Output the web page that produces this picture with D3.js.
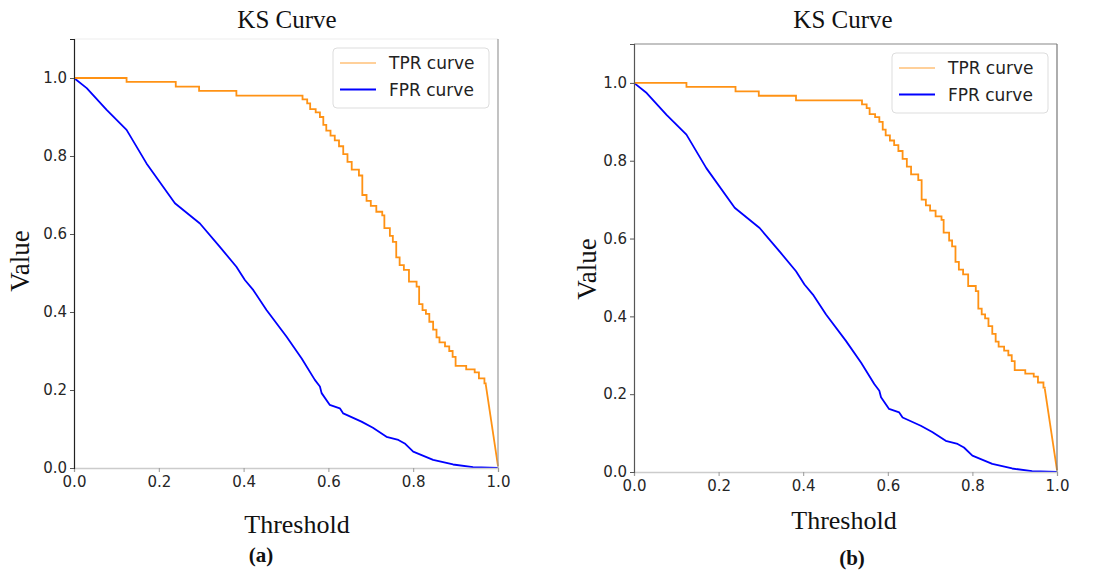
<!DOCTYPE html>
<html>
<head>
<meta charset="utf-8">
<script src="https://cdn.jsdelivr.net/npm/d3@7"></script>
<style>
  html, body { margin: 0; padding: 0; background: #fff; }
  svg { display: block; }
</style>
</head>
<body>
<svg id="chart" width="1102" height="573"></svg>
<script>
// ---- Data ----
const xTicks = [0.0, 0.2, 0.4, 0.6, 0.8, 1.0];
const yTicks = [0.0, 0.2, 0.4, 0.6, 0.8, 1.0];
const seriesNames = ["TPR curve", "FPR curve"];
const panelLabels = ["(a)", "(b)"];

// TPR: step curve (threshold, value)
const tprThreshold = [0.000, 0.124, 0.240, 0.295, 0.383, 0.539, 0.550, 0.557, 0.570, 0.580,
                      0.588, 0.595, 0.605, 0.615, 0.625, 0.635, 0.645, 0.655, 0.672, 0.680,
                      0.690, 0.700, 0.713, 0.727, 0.732, 0.745, 0.752, 0.760, 0.768, 0.778,
                      0.790, 0.808, 0.814, 0.822, 0.830, 0.838, 0.847, 0.855, 0.862, 0.875,
                      0.885, 0.893, 0.900, 0.925, 0.945, 0.955, 0.968, 0.971, 1.000];
const tprValue     = [1.000, 0.990, 0.978, 0.967, 0.955, 0.945, 0.935, 0.920, 0.912, 0.900,
                      0.880, 0.865, 0.852, 0.840, 0.825, 0.805, 0.785, 0.765, 0.750, 0.700,
                      0.685, 0.672, 0.657, 0.648, 0.615, 0.595, 0.580, 0.540, 0.520, 0.508,
                      0.478, 0.465, 0.420, 0.405, 0.395, 0.375, 0.355, 0.335, 0.322, 0.312,
                      0.300, 0.285, 0.262, 0.253, 0.245, 0.230, 0.217, 0.215, 0.005];

// FPR: smooth-ish curve (threshold, value)
const fprThreshold = [0.000, 0.030, 0.077, 0.124, 0.171, 0.238, 0.297, 0.344, 0.383, 0.403,
                      0.423, 0.454, 0.501, 0.537, 0.568, 0.580, 0.584, 0.603, 0.627, 0.635,
                      0.678, 0.705, 0.737, 0.765, 0.780, 0.800, 0.847, 0.894, 0.941, 1.000];
const fprValue     = [1.000, 0.974, 0.918, 0.867, 0.781, 0.679, 0.627, 0.567, 0.516, 0.482,
                      0.456, 0.405, 0.337, 0.281, 0.226, 0.209, 0.192, 0.162, 0.153, 0.140,
                      0.119, 0.103, 0.080, 0.072, 0.063, 0.042, 0.021, 0.009, 0.002, 0.000];

const tprData = tprThreshold.map((t, i) => ({ t, v: tprValue[i] }));
const fprData = fprThreshold.map((t, i) => ({ t, v: fprValue[i] }));

const TPR_COLOR = "#ff9214";
const FPR_COLOR = "#0000ff";

// ---- Panel layouts ----
const panels = [
  { label: panelLabels[0], x0: 74, x1: 498, yTop: 39, yBot: 468,
    titleX: 287, titleY: 28, yLabX: 29, yLabY: 261, xLabX: 297, xLabY: 533,
    capX: 261, capY: 562, tickLabY: 0,
    spines: { left: "#222", right: "#9a9a9a", top: "#eeeeee", bottom: "#cccccc" } },
  { label: panelLabels[1], x0: 634, x1: 1057, yTop: 44, yBot: 472,
    titleX: 843, titleY: 28, yLabX: 596, yLabY: 269, xLabX: 844, xLabY: 529,
    capX: 852, capY: 565, tickLabY: 0,
    spines: { left: "#555", right: "#777", top: "#888", bottom: "#cccccc" } }
];

const svg = d3.select("#chart");

panels.forEach(p => {
  const x = d3.scaleLinear().domain([0, 1]).range([p.x0, p.x1]);
  const y = d3.scaleLinear().domain([0, 1.1]).range([p.yBot, p.yTop]);
  const g = svg.append("g");

  // Title
  g.append("text")
    .attr("x", p.titleX).attr("y", p.titleY)
    .attr("text-anchor", "middle")
    .style("font-family", "'Liberation Serif', 'Times New Roman', serif")
    .style("font-size", "25px")
    .attr("fill", "#111")
    .text("KS Curve");

  // Curves
  const lineStep = d3.line().x(d => x(d.t)).y(d => y(d.v)).curve(d3.curveStepAfter);
  const lineLin = d3.line().x(d => x(d.t)).y(d => y(d.v));
  const stepPart = tprData.slice(0, tprData.length - 1);
  const tailPart = tprData.slice(tprData.length - 2);

  g.append("path").datum(fprData)
    .attr("d", lineLin)
    .attr("fill", "none").attr("stroke", FPR_COLOR)
    .attr("stroke-width", 1.8).attr("stroke-linejoin", "round");

  g.append("path").datum(stepPart)
    .attr("d", lineStep)
    .attr("fill", "none").attr("stroke", TPR_COLOR)
    .attr("stroke-width", 1.8);
  g.append("path").datum(tailPart)
    .attr("d", lineLin)
    .attr("fill", "none").attr("stroke", TPR_COLOR)
    .attr("stroke-width", 1.8);

  // Spines
  const sp = p.spines;
  g.append("line").attr("x1", p.x0).attr("x2", p.x1).attr("y1", p.yTop).attr("y2", p.yTop).attr("stroke", sp.top).attr("stroke-width", 1.2);
  g.append("line").attr("x1", p.x1).attr("x2", p.x1).attr("y1", p.yTop).attr("y2", p.yBot).attr("stroke", sp.right).attr("stroke-width", 1.2);

  // Axes
  const fmt = d3.format(".1f");
  const xAxis = g.append("g").attr("transform", `translate(0,${p.yBot})`)
    .call(d3.axisBottom(x).tickValues(xTicks).tickFormat(fmt).tickSize(4).tickPadding(4));
  xAxis.select(".domain").attr("stroke", sp.bottom).attr("stroke-width", 1.5);
  xAxis.selectAll(".tick line").attr("stroke", "#999");
  xAxis.selectAll("text")
    .style("font-family", "'DejaVu Sans', sans-serif").style("font-size", "15px").attr("fill", "#262626");

  const yAxis = g.append("g").attr("transform", `translate(${p.x0},0)`)
    .call(d3.axisLeft(y).tickValues(yTicks).tickFormat(fmt).tickSize(4).tickPadding(3));
  yAxis.select(".domain").attr("stroke", sp.left).attr("stroke-width", 1.2);
  yAxis.selectAll(".tick line").attr("stroke", "#555");
  yAxis.selectAll("text")
    .style("font-family", "'DejaVu Sans', sans-serif").style("font-size", "15px").attr("fill", "#262626");

  // Axis labels
  g.append("text")
    .attr("transform", `translate(${p.yLabX},${p.yLabY}) rotate(-90)`)
    .attr("text-anchor", "middle")
    .style("font-family", "'Liberation Serif', 'Times New Roman', serif")
    .style("font-size", "27px").attr("fill", "#111")
    .text("Value");
  g.append("text")
    .attr("x", p.xLabX).attr("y", p.xLabY)
    .attr("text-anchor", "middle")
    .style("font-family", "'Liberation Serif', 'Times New Roman', serif")
    .style("font-size", "26px").attr("fill", "#111")
    .text("Threshold");

  // Panel caption
  g.append("text")
    .attr("x", p.capX).attr("y", p.capY)
    .attr("text-anchor", "middle")
    .style("font-family", "'Liberation Serif', 'Times New Roman', serif")
    .style("font-size", "21px").style("font-weight", "bold").attr("fill", "#111")
    .text(p.label);

  // Legend
  const lgW = 156, lgH = 60;
  const lg = g.append("g").attr("transform", `translate(${p.x1 - 9 - lgW},${p.yTop + 9})`);
  lg.append("rect").attr("width", lgW).attr("height", lgH).attr("rx", 4)
    .attr("fill", "#fff").attr("stroke", "#dddddd").attr("stroke-width", 1);
  const colors = [TPR_COLOR, FPR_COLOR];
  const widths = [1.2, 2];
  seriesNames.forEach((name, i) => {
    const cy = 15 + i * 26.5;
    lg.append("line").attr("x1", 7).attr("x2", 43).attr("y1", cy).attr("y2", cy)
      .attr("stroke", colors[i]).attr("stroke-width", widths[i]).attr("opacity", i === 0 ? 0.85 : 1);
    lg.append("text").attr("x", 56).attr("y", cy).attr("dy", "0.36em")
      .style("font-family", "'DejaVu Sans', sans-serif").style("font-size", "17px")
      .attr("fill", "#222").text(name);
  });
});
</script>
</body>
</html>
